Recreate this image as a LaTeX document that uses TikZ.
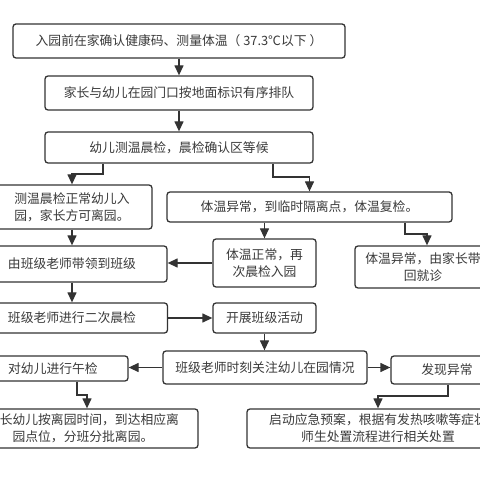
\documentclass[tikz,border=0pt]{standalone}
\usepackage{fontspec}
\setmainfont{Noto Sans CJK SC}
\usetikzlibrary{arrows.meta}
\definecolor{ln}{HTML}{333333}
\definecolor{tx}{HTML}{3A3A3A}
\tikzset{
  box/.style={draw=ln, line width=1.3pt, rounded corners=3pt, inner sep=0pt,
    align=center, text=tx, font=\fontsize{12.8}{17}\selectfont},
  arr/.style={draw=ln, line width=1.3pt, -{Triangle[width=9pt,length=10pt]}}
}
\begin{document}
\begin{tikzpicture}[x=1pt,y=-1pt]
\useasboundingbox (0,0) rectangle (480,478);
\fill[white] (0,0) rectangle (480,478);
\clip (0,0) rectangle (480,478);
\node[box, minimum width=332pt, minimum height=34pt] (b1) at (179,41) {入园前在家确认健康码、测量体温（ 37.3℃以下 ）};
\node[box, minimum width=268pt, minimum height=34pt] (b2) at (179,93) {家长与幼儿在园门口按地面标识有序排队};
\node[box, minimum width=268pt, minimum height=31pt] (b3) at (179,147.5) {幼儿测温晨检，晨检确认区等候};
\node[box, minimum width=160pt, minimum height=44pt] (b4) at (72,207) {测温晨检正常幼儿入\\园，家长方可离园。};
\node[box, minimum width=285pt, minimum height=30pt] (b5) at (309.5,207) {体温异常，到临时隔离点，体温复检。};
\node[box, minimum width=190pt, minimum height=36pt] (b6) at (72,264) {由班级老师带领到班级};
\node[box, minimum width=103pt, minimum height=48pt] (b7) at (264.5,263) {体温正常，再\\次晨检入园};
\node[box, minimum width=136pt, minimum height=42pt] (b8) at (423,267) {体温异常，由家长带\\回就诊};
\node[box, minimum width=191pt, minimum height=30pt] (b9) at (72,318) {班级老师进行二次晨检};
\node[box, minimum width=103pt, minimum height=30pt] (b10) at (264.5,318) {开展班级活动};
\node[box, minimum width=204pt, minimum height=33pt] (b11) at (265,367.5) {班级老师时刻关注幼儿在园情况};
\node[box, minimum width=150pt, minimum height=25pt] (b12) at (53,368.5) {对幼儿进行午检};
\node[box, minimum width=112pt, minimum height=28pt] (b13) at (447,370) {发现异常};
\node[box, minimum width=230pt, minimum height=39pt] (b14) at (83,428.5) {家长幼儿按离园时间，到达相应离\\园点位，分班分批离园。};
\node[box, minimum width=262pt, minimum height=39pt] (b15) at (378,428.5) {启动应急预案，根据有发热咳嗽等症状\\师生处置流程进行相关处置};
\coordinate (c1) at (103,174);
\coordinate (c2) at (273,177);
\coordinate (c3) at (405,234);
\coordinate (c3b) at (427,234);
\coordinate (c4) at (77,395);
\coordinate (c5) at (87,395);
\coordinate (c6) at (448,396);
\draw[arr] (b1.south) -- (b2.north);
\draw[arr] (b2.south) -- (b3.north);
\draw[arr] (b3.south -| c1) -- (c1) -| (b4.north);
\draw[arr] (b3.south -| c2) -- (c2) -| (b5.north);
\draw[arr] (b4.south) -- (b6.north);
\draw[arr] (b5.south -| b7.north) -- (b7.north);
\draw[arr] (b7.west) -- (b6.east |- b7.west);
\draw[arr] (b5.south -| c3) -- (c3) -- (c3b) -- (c3b |- b8.north);
\draw[arr] (b6.south) -- (b9.north);
\draw[arr] (b9.east |- b10.west) -- (b10.west);
\draw[arr] (b10.south) -- (b10.south |- b11.north);
\draw[arr] (b11.west) -- (b12.east |- b11.west);
\draw[arr] (b11.east) -- (b13.west |- b11.east);
\draw[arr] (b12.south -| c4) -- (c4) -- (c5) -- (c5 |- b14.north);
\draw[arr] (b13.south -| c6) -- (c6) -| (b15.north);
\end{tikzpicture}
\end{document}
